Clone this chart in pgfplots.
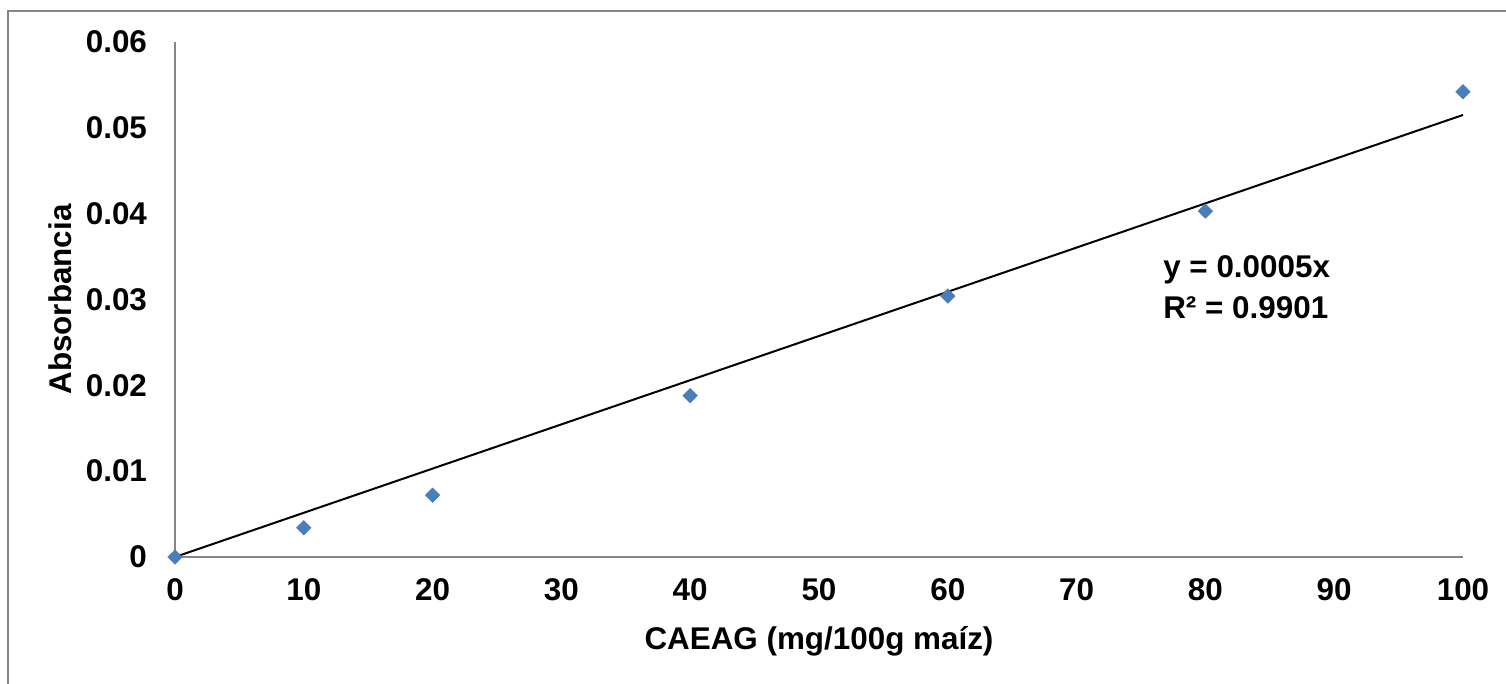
\documentclass[border=0pt]{standalone}
\usepackage{fontspec}
\setmainfont{Liberation Sans}
\usepackage{pgfplots}
\pgfplotsset{compat=1.18}
\definecolor{axgray}{HTML}{868686}
\definecolor{ptblue}{HTML}{4A7EBB}
\begin{document}
\begin{tikzpicture}[x=1pt,y=1pt]
\useasboundingbox (0,0) rectangle (753,342);
\draw[axgray, line width=0.6pt] (4,0) -- (4,336.5) -- (753,336.5);
\begin{axis}[
  at={(87.5pt,63.5pt)}, anchor=south west,
  scale only axis, width=644pt, height=257.5pt,
  xmin=0, xmax=100, ymin=0, ymax=0.06,
  axis x line*=bottom, axis y line*=left,
  axis line style={axgray, line width=0.9pt, -},
  xtick={0,10,...,100}, ytick={0,0.01,0.02,0.03,0.04,0.05,0.06},
  scaled y ticks=false,
  major tick length=0pt,
  /pgf/number format/assume math mode=true,
  yticklabel style={/pgf/number format/fixed, /pgf/number format/precision=2},
  tick label style={font=\fontsize{15.7}{19}\selectfont\bfseries},
  xticklabel style={yshift=-7.5pt},
  yticklabel style={xshift=-10.5pt},
  label style={font=\fontsize{15.7}{19}\selectfont\bfseries},
  xlabel={CAEAG (mg/100g maíz)},
  ylabel={Absorbancia},
  xlabel style={at={(axis description cs:0.5,0)}, anchor=center, yshift=-42pt},
  ylabel style={at={(axis description cs:0,0.5)}, anchor=center, yshift=57.5pt},
  clip=false,
]
\addplot[black, line width=1pt] coordinates {(0,0) (100,0.0515)};
\addplot[only marks, mark=square*, mark size=2.5pt, mark options={rotate=45, fill=ptblue, draw=ptblue}] coordinates {
(0,0) (10,0.0034) (20,0.0072) (40,0.0188) (60,0.0304) (80,0.0403) (100,0.0542)};
\node[anchor=west, font=\fontsize{15.7}{19}\selectfont\bfseries, inner sep=0pt] at (axis cs:76.7,0.03344) {y = 0.0005x};
\node[anchor=west, font=\fontsize{15.7}{19}\selectfont\bfseries, inner sep=0pt] at (axis cs:76.7,0.0290) {R² = 0.9901};
\end{axis}
\end{tikzpicture}
\end{document}
